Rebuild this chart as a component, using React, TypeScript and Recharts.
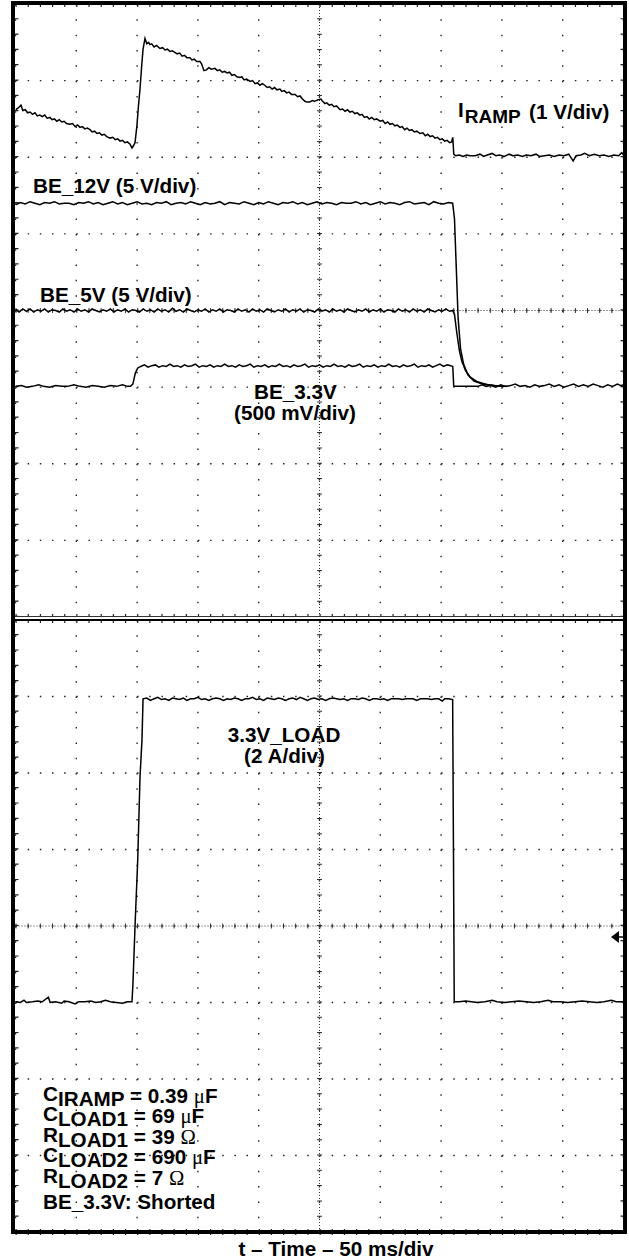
import React from 'react';
import { LineChart, Line, XAxis, YAxis, CartesianGrid, ReferenceLine, Customized } from 'recharts';

type Pt = [number, number];

// x: time in ms (50 ms/div), y: screen divisions from the centre line
const timeTicks = [0, 50, 100, 150, 200, 250, 300, 350, 400, 450, 500];
const divTicks = [-4, -3, -2, -1, 0, 1, 2, 3, 4];

const iRamp: Pt[] = [
  [0, 2.62], [2, 2.64], [4.5, 2.68], [6, 2.61], [8, 2.62], [10, 2.58], [12, 2.59], [14, 2.56], [16, 2.58],
  [18, 2.54], [20, 2.55], [22, 2.53], [24, 2.55], [26, 2.51], [28.4, 2.52], [30, 2.49], [32, 2.5], [34, 2.47],
  [36, 2.49], [38, 2.46], [40, 2.47], [42, 2.44], [44.8, 2.43], [47, 2.44], [49, 2.4], [51, 2.42], [53, 2.39],
  [55, 2.4], [57, 2.37], [59, 2.38], [61.3, 2.36], [63, 2.33], [65, 2.34], [67, 2.31], [69, 2.32], [71, 2.29],
  [73, 2.3], [75, 2.27], [77.7, 2.25], [80, 2.26], [82, 2.23], [84, 2.24], [86, 2.21], [88, 2.22], [90, 2.19],
  [92, 2.2], [94.2, 2.17], [95.8, 2.12], [97, 2.15], [98.3, 2.19], [99.9, 2.42], [101, 2.65], [102.4, 2.89],
  [103.8, 3.2], [104.9, 3.41], [106.5, 3.55], [108, 3.48], [109.5, 3.5], [110.6, 3.47], [112, 3.48], [114, 3.44],
  [116, 3.46], [118.8, 3.42], [121, 3.43], [123, 3.4], [125, 3.41], [127, 3.38], [129, 3.39], [131, 3.37],
  [133, 3.35], [135, 3.36], [137, 3.32], [139, 3.33], [141, 3.3], [143.5, 3.3], [145, 3.27], [147, 3.28],
  [149, 3.25], [151.7, 3.25], [153, 3.22], [155, 3.13], [157, 3.14], [159, 3.17], [161, 3.15], [164, 3.16],
  [166, 3.13], [168, 3.14], [170, 3.11], [172, 3.12], [174, 3.1], [176, 3.11], [178, 3.07], [180, 3.08],
  [182, 3.05], [184.6, 3.04], [186, 3.05], [188, 3.01], [190, 3.02], [193, 2.99], [195, 3.0], [197, 2.96],
  [199, 2.97], [201, 2.94], [203, 2.96], [205, 2.94], [207, 2.91], [209, 2.92], [211, 2.89], [213, 2.91],
  [215, 2.88], [217.5, 2.89], [219, 2.86], [221, 2.87], [223, 2.84], [225, 2.85], [227, 2.82], [230, 2.82],
  [232, 2.79], [234, 2.8], [236, 2.76], [238, 2.73], [239.7, 2.72], [242, 2.72], [244, 2.74], [246, 2.73],
  [248.8, 2.75], [251.2, 2.76], [252.5, 2.73], [254.5, 2.7], [256, 2.71], [258, 2.68], [260, 2.69], [262, 2.66],
  [264, 2.67], [266.9, 2.62], [269, 2.63], [271, 2.6], [273, 2.62], [275, 2.59], [277, 2.6], [279, 2.57],
  [281, 2.58], [283.3, 2.55], [285, 2.56], [287, 2.52], [289, 2.53], [291, 2.5], [293, 2.52], [295, 2.49],
  [297, 2.5], [299.8, 2.47], [302, 2.48], [304, 2.44], [306, 2.46], [308, 2.43], [310, 2.44], [312, 2.41],
  [314, 2.42], [316.2, 2.39], [318, 2.4], [320, 2.36], [322, 2.38], [324, 2.35], [326, 2.36], [328, 2.33],
  [330, 2.34], [332.6, 2.31], [335, 2.32], [337, 2.28], [339, 2.3], [341, 2.27], [343, 2.28], [345, 2.25],
  [347, 2.26], [349, 2.23], [351, 2.24], [353, 2.21], [355, 2.22], [357, 2.19], [358.6, 2.2], [359.6, 2.26],
  [360.4, 2.04], [362, 2.02], [365, 2.03], [368, 2.01], [371, 2.03], [374, 2.02], [378, 2.02], [382, 2.04],
  [385, 2.01], [388, 2.03], [392, 2.05], [395, 2.02], [398, 2.03], [402, 2.01], [406, 2.04], [409, 2.02],
  [413, 2.03], [417, 2.01], [420, 2.03], [424, 2.02], [428, 2.04], [431, 2.01], [435, 2.02], [439, 2.03],
  [443, 2.01], [447, 2.03], [451, 2.02], [455, 2.04], [458.6, 1.95], [461, 2.02], [465, 2.03], [468, 2.05],
  [472, 2.02], [476, 2.04], [480, 2.02], [484, 2.03], [488, 2.01], [492, 2.03], [496, 2.02], [498.5, 2.06], [500, 2.03],
];

const be12v: Pt[] = [
  [0, 1.38], [4, 1.41], [8, 1.39], [12, 1.42], [16, 1.4], [20, 1.38], [24, 1.41], [28, 1.4], [32, 1.42],
  [36, 1.39], [40, 1.4], [44, 1.4], [48, 1.38], [52, 1.41], [56, 1.4], [60, 1.42], [64, 1.39], [68, 1.41],
  [72, 1.38], [76, 1.4], [80, 1.42], [84, 1.39], [88, 1.41], [92, 1.38], [96, 1.4], [100, 1.42], [104, 1.39],
  [108, 1.4], [112, 1.38], [116, 1.41], [120, 1.4], [124, 1.42], [128, 1.38], [132, 1.4], [136, 1.41],
  [140, 1.39], [144, 1.42], [148, 1.4], [152, 1.38], [156, 1.41], [160, 1.39], [164, 1.4], [168, 1.42],
  [172, 1.38], [176, 1.41], [180, 1.4], [184, 1.39], [188, 1.42], [192, 1.4], [196, 1.38], [200, 1.41],
  [204, 1.39], [208, 1.42], [212, 1.4], [216, 1.38], [220, 1.41], [224, 1.4], [228, 1.42], [232, 1.39],
  [236, 1.41], [240, 1.38], [244, 1.4], [248, 1.42], [252, 1.39], [256, 1.41], [260, 1.4], [264, 1.38],
  [268, 1.41], [272, 1.4], [276, 1.4], [280, 1.42], [284, 1.39], [288, 1.41], [292, 1.38], [296, 1.4],
  [300, 1.42], [304, 1.39], [308, 1.41], [312, 1.4], [316, 1.38], [320, 1.41], [324, 1.42], [328, 1.39],
  [332, 1.4], [336, 1.41], [340, 1.38], [344, 1.42], [348, 1.4], [352, 1.39], [356, 1.41], [359.5, 1.4],
  [361, 1.2], [362.5, 0.55], [364, -0.1], [366, -0.5], [368.5, -0.7], [372, -0.84], [377, -0.92],
  [384, -0.96], [394, -0.98], [402, -0.99],
];

const be5v: Pt[] = [
  [0, 0.01], [3, -0.02], [6, 0.02], [9, -0.01], [12, 0.02], [15, -0.02], [18, 0.01], [21, -0.01], [24, 0.02],
  [27, -0.02], [30, 0.01], [33, 0.0], [36, -0.02], [39, 0.02], [42, -0.01], [45, 0.01], [48, -0.02],
  [51, 0.02], [54, -0.01], [57, 0.01], [60, -0.02], [63, 0.02], [66, 0.0], [69, -0.02], [72, 0.01],
  [75, -0.01], [78, 0.02], [81, -0.02], [84, 0.01], [87, -0.01], [90, 0.02], [93, -0.02], [96, 0.01],
  [99, 0.0], [102, -0.02], [105, 0.02], [108, -0.01], [111, 0.01], [114, -0.02], [117, 0.02], [120, -0.01],
  [123, 0.01], [126, -0.02], [129, 0.03], [132, -0.01], [135, 0.01], [138, -0.02], [141, 0.02], [144, 0.0],
  [147, -0.02], [150, 0.01], [153, -0.01], [156, 0.02], [159, -0.02], [162, 0.01], [165, -0.01], [168, 0.02],
  [171, -0.02], [174, 0.01], [177, 0.0], [180, -0.02], [183, 0.02], [186, -0.01], [189, 0.01], [192, -0.02],
  [195, 0.02], [198, -0.01], [201, 0.01], [204, -0.02], [207, 0.02], [210, 0.0], [213, -0.02], [216, 0.01],
  [219, -0.01], [222, 0.02], [225, -0.02], [228, 0.01], [231, -0.01], [234, 0.02], [237, -0.02], [240, 0.01],
  [243, 0.0], [246, -0.02], [249, 0.02], [252, -0.01], [255, 0.01], [258, -0.02], [261, 0.02], [264, -0.01],
  [267, 0.01], [270, -0.02], [273, 0.02], [276, 0.0], [279, -0.02], [282, 0.01], [285, -0.01], [288, 0.02],
  [291, -0.02], [294, 0.01], [297, -0.01], [300, 0.02], [303, -0.02], [306, 0.01], [309, 0.0], [312, -0.02],
  [315, 0.02], [318, -0.01], [321, 0.01], [324, -0.02], [327, 0.02], [330, -0.01], [333, 0.01], [336, -0.02],
  [339, 0.02], [342, 0.0], [345, -0.02], [348, 0.01], [351, -0.01], [354, 0.02], [357, -0.01], [359.5, 0.0],
  [361, -0.05], [363, -0.3], [365, -0.52], [367, -0.66], [370, -0.78], [374, -0.87], [380, -0.93],
  [388, -0.97], [398, -0.99], [404, -0.99],
];

const be33v: Pt[] = [
  [0, -0.99], [5, -0.98], [9, -1.0], [14, -0.99], [19, -0.97], [23, -0.99], [28, -1.0], [33, -0.98],
  [38, -0.99], [43, -0.99], [48, -0.97], [53, -0.99], [58, -1.0], [63, -0.98], [68, -0.99], [73, -1.0],
  [78, -0.98], [83, -0.99], [88, -0.97], [92, -0.99], [94.5, -0.99], [96.5, -0.96], [98.5, -0.82],
  [100.5, -0.75], [103, -0.73], [106, -0.71], [109, -0.74], [112, -0.72], [115, -0.71], [118, -0.74],
  [121, -0.72], [124, -0.73], [127, -0.7], [130, -0.73], [133, -0.72], [136, -0.74], [139, -0.71],
  [142, -0.73], [145, -0.72], [148, -0.7], [151, -0.74], [154, -0.72], [157, -0.73], [160, -0.71],
  [163, -0.74], [166, -0.72], [169, -0.73], [172, -0.7], [175, -0.73], [178, -0.72], [181, -0.74],
  [184, -0.71], [187, -0.73], [190, -0.72], [193, -0.7], [196, -0.74], [199, -0.72], [202, -0.73],
  [205, -0.71], [208, -0.74], [211, -0.72], [214, -0.73], [217, -0.7], [220, -0.73], [223, -0.72],
  [226, -0.74], [229, -0.71], [232, -0.73], [235, -0.72], [238, -0.7], [241, -0.74], [244, -0.72],
  [247, -0.73], [250, -0.71], [253, -0.74], [256, -0.72], [259, -0.73], [262, -0.7], [265, -0.73],
  [268, -0.72], [271, -0.74], [274, -0.71], [277, -0.73], [280, -0.72], [283, -0.7], [286, -0.74],
  [289, -0.72], [292, -0.73], [295, -0.71], [298, -0.74], [301, -0.72], [304, -0.73], [307, -0.7],
  [310, -0.73], [313, -0.72], [316, -0.74], [319, -0.71], [322, -0.73], [325, -0.72], [328, -0.7],
  [331, -0.74], [334, -0.72], [337, -0.73], [340, -0.71], [343, -0.74], [346, -0.72], [349, -0.7],
  [352, -0.73], [355, -0.71], [358, -0.72], [359.6, -0.73], [360.4, -0.99], [370, -0.99], [380, -0.99],
  [384, -0.97], [387, -0.99], [391, -0.98], [395, -1.0], [399, -0.97], [403, -0.99], [407, -0.98],
  [411, -0.96], [415, -0.99], [419, -0.98], [423, -1.0], [427, -0.97], [431, -0.99], [435, -0.98],
  [439, -0.96], [443, -0.99], [447, -0.97], [451, -1.0], [455, -0.98], [459, -0.96], [463, -0.99],
  [467, -0.97], [471, -0.99], [475, -0.96], [479, -0.98], [483, -1.0], [487, -0.97], [491, -0.99],
  [495, -0.96], [498, -0.98], [500, -0.97],
];

const load33v: Pt[] = [
  [0, -0.99], [4, -1.0], [7, -0.97], [9, -1.0], [14, -0.99], [18, -0.98], [22, -0.99], [27, -0.93],
  [28.5, -1.0], [33, -0.99], [38, -1.01], [40, -0.98], [44, -0.99], [49, -1.02], [52, -0.99], [57, -0.99],
  [62, -0.98], [66, -1.0], [70, -0.99], [74, -0.97], [78, -0.99], [83, -1.0], [88, -1.01], [92, -0.99],
  [95.8, -0.99], [96.6, -0.75], [98.3, 0.0], [100.5, 0.86], [102.4, 1.95], [104, 2.43], [104.9, 2.97],
  [108, 2.98], [111, 2.95], [114, 2.97], [117, 2.99], [120, 2.96], [123, 2.97], [126, 2.95], [129, 2.98],
  [132, 2.97], [135, 2.96], [138, 2.98], [141, 2.95], [144, 2.97], [147, 2.97], [150, 2.99], [153, 2.96],
  [156, 2.97], [159, 2.95], [162, 2.97], [165, 2.98], [168, 2.97], [171, 2.95], [174, 2.97], [177, 2.96],
  [180, 2.98], [183, 2.97], [186, 2.95], [189, 2.97], [192, 2.97], [195, 2.99], [198, 2.96], [201, 2.97],
  [204, 2.95], [207, 2.98], [210, 2.97], [213, 2.96], [216, 2.98], [219, 2.97], [222, 2.95], [225, 2.97],
  [228, 2.98], [231, 2.96], [234, 2.99], [237, 2.97], [240, 2.95], [243, 2.97], [246, 2.98], [249, 2.96],
  [252, 2.97], [255, 2.95], [258, 2.97], [261, 2.98], [264, 2.97], [267, 2.96], [270, 2.97], [273, 2.95],
  [276, 2.97], [279, 2.97], [282, 2.96], [285, 2.98], [288, 2.97], [291, 2.95], [294, 2.97], [297, 2.97],
  [300, 2.96], [303, 2.97], [306, 2.95], [309, 2.97], [312, 2.97], [315, 2.97], [318, 2.96], [321, 2.97],
  [324, 2.97], [327, 2.97], [330, 2.95], [333, 2.97], [336, 2.97], [339, 2.97], [342, 2.96], [345, 2.97],
  [348, 2.97], [351, 2.94], [353, 2.97], [356, 2.97], [359.5, 2.96], [360.2, 0.9], [360.8, -0.99],
  [365, -0.99], [370, -0.98], [375, -0.99], [380, -1.0], [386, -0.99], [392, -0.97], [396, -0.99],
  [402, -1.0], [408, -0.99], [414, -0.98], [420, -0.99], [426, -1.0], [432, -0.99], [438, -0.97],
  [442, -0.99], [448, -0.99], [454, -1.0], [460, -0.99], [466, -0.98], [472, -0.99], [478, -1.0],
  [484, -0.99], [490, -0.97], [494, -0.99], [500, -0.99],
];

const toRows = (pts: Pt[]) => pts.map(([t, v]) => ({ t, v }));

const W = 629;
const M_LEFT = 15.5;
const M_RIGHT = 5.5;
const SANS = "'Liberation Sans', Arial, Helvetica, sans-serif";
const SERIF = "'Liberation Serif', 'Times New Roman', serif";

const traceProps = {
  type: 'linear' as const,
  dataKey: 'v',
  stroke: '#000',
  strokeWidth: 1.5,
  dot: false,
  activeDot: false,
  isAnimationActive: false,
};

// scope graticule: dotted major lines, dense centre cross, ticks on the edges
const graticule = (hStep: number, vStep: number) => [
  <CartesianGrid key="gh" vertical={false} stroke="#222" strokeWidth={1.4} strokeDasharray={`1.5 ${hStep - 1.5}`} />,
  <CartesianGrid key="gv" horizontal={false} stroke="#222" strokeWidth={1.4} strokeDasharray={`1.5 ${vStep - 1.5}`} />,
  <ReferenceLine key="cx" x={250} stroke="#333" strokeDasharray="1 2" />,
  <ReferenceLine key="cy" y={0} stroke="#333" strokeDasharray="1 2" />,
  <ReferenceLine key="cxt" x={250} stroke="#333" strokeWidth={5} strokeDasharray={`1 ${vStep - 1}`} />,
  <ReferenceLine key="cyt" y={0} stroke="#333" strokeWidth={5} strokeDasharray={`1 ${hStep - 1}`} />,
  <ReferenceLine key="et" y={4} stroke="#222" strokeWidth={6} strokeDasharray={`1.2 ${hStep - 1.2}`} />,
  <ReferenceLine key="eb" y={-4} stroke="#222" strokeWidth={6} strokeDasharray={`1.2 ${hStep - 1.2}`} />,
  <ReferenceLine key="el" x={0} stroke="#222" strokeWidth={6} strokeDasharray={`1.2 ${vStep - 1.2}`} />,
  <ReferenceLine key="er" x={500} stroke="#222" strokeWidth={6} strokeDasharray={`1.2 ${vStep - 1.2}`} />,
];

const TopNotes = () => (
  <g fontFamily={SANS} fontWeight="bold" fontSize={20.7} fill="#000">
    <text x={458} y={117}>
      I<tspan dx={1} dy={6} fontSize={19}>RAMP</tspan>
      <tspan x={529} y={119}>(1 V/div)</tspan>
    </text>
    <text x={33} y={193}>BE_12V (5 V/div)</text>
    <text x={40} y={302}>BE_5V (5 V/div)</text>
    <text x={295.5} y={399} textAnchor="middle">BE_3.3V</text>
    <text x={295} y={420} textAnchor="middle">(500 mV/div)</text>
  </g>
);

const Param = ({ y, lead, sub, rest, unit }: { y: number; lead: string; sub: string; rest: string; unit: string }) => (
  <text x={43} y={y - 2}>
    {lead}
    <tspan dy={5}>{sub}</tspan>
    <tspan dy={-3}>{rest}</tspan>
    <tspan fontFamily={SERIF} fontWeight="normal">{unit}</tspan>
    {unit === 'μ' && <tspan>F</tspan>}
  </text>
);

const BottomNotes = () => (
  <g fontFamily={SANS} fontWeight="bold" fontSize={20.7} fill="#000">
    <text x={284} y={122} textAnchor="middle">3.3V_LOAD</text>
    <text x={284.5} y={143} textAnchor="middle">(2 A/div)</text>
    <Param y={482.5} lead="C" sub="IRAMP" rest=" = 0.39 " unit="μ" />
    <Param y={503} lead="C" sub="LOAD1" rest=" = 69 " unit="μ" />
    <Param y={523.5} lead="R" sub="LOAD1" rest=" = 39 " unit="Ω" />
    <Param y={544} lead="C" sub="LOAD2" rest=" = 690 " unit="μ" />
    <Param y={564.5} lead="R" sub="LOAD2" rest=" = 7 " unit="Ω" />
    <text x={43} y={588.5}>BE_3.3V: Shorted</text>
    <text x={336} y={636} textAnchor="middle">t – Time – 50 ms/div</text>
    <path d="M611,317 L619,311 L619,323 Z" fill="#000" />
    <line x1={619} y1={317} x2={626} y2={317} stroke="#000" strokeWidth={1.5} />
  </g>
);

const App = () => (
  <div style={{ position: 'absolute', left: 0, top: 0, width: W, height: 1260, background: '#fff' }}>
    <div style={{ position: 'absolute', left: 0, top: 0 }}>
      <LineChart width={W} height={617} margin={{ top: 4, right: M_RIGHT, left: M_LEFT, bottom: 0 }}>
        <XAxis dataKey="t" type="number" domain={[0, 500]} ticks={timeTicks} hide allowDataOverflow />
        <YAxis type="number" domain={[-4, 4]} ticks={divTicks} hide allowDataOverflow />
        {graticule(60.8 / 5, 613 / 40)}
        <Line {...traceProps} data={toRows(iRamp)} />
        <Line {...traceProps} data={toRows(be12v)} />
        <Line {...traceProps} data={toRows(be5v)} />
        <Line {...traceProps} data={toRows(be33v)} />
        <Customized component={TopNotes} />
      </LineChart>
    </div>
    <div style={{ position: 'absolute', left: 0, top: 620 }}>
      <LineChart width={W} height={640} margin={{ top: 0, right: M_RIGHT, left: M_LEFT, bottom: 28 }}>
        <XAxis dataKey="t" type="number" domain={[0, 500]} ticks={timeTicks} hide allowDataOverflow />
        <YAxis type="number" domain={[-4, 4]} ticks={divTicks} hide allowDataOverflow />
        {graticule(60.8 / 5, 612 / 40)}
        <Line {...traceProps} data={toRows(load33v)} />
        <Customized component={BottomNotes} />
      </LineChart>
    </div>
    {/* scope frame and panel divider */}
    <div style={{ position: 'absolute', left: 11, top: 1, width: 616, height: 1233, border: '4px solid #000', boxSizing: 'border-box', pointerEvents: 'none' }} />
    <div style={{ position: 'absolute', left: 15, top: 616, width: 608, height: 1, background: '#333' }} />
    <div style={{ position: 'absolute', left: 15, top: 619, width: 608, height: 2, background: '#000' }} />
  </div>
);

export default App;
